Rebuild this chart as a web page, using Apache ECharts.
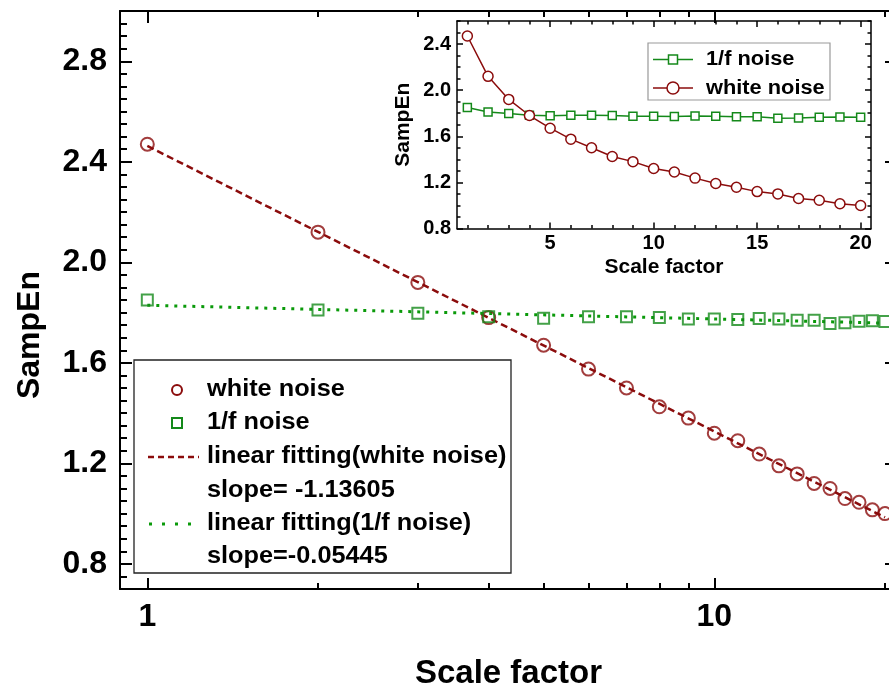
<!DOCTYPE html>
<html><head><meta charset="utf-8">
<script src="https://cdn.jsdelivr.net/npm/echarts@6/dist/echarts.min.js"></script>
<style>html,body{margin:0;padding:0;background:#fff}#c{width:889px;height:690px}</style>
</head><body><div id="c"></div>
<script>
// ---- data ----
const scaleFactors = [1,2,3,4,5,6,7,8,9,10,11,12,13,14,15,16,17,18,19,20];
const whiteNoise = [2.47,2.12,1.92,1.78,1.67,1.575,1.50,1.425,1.38,1.32,1.29,1.237,1.19,1.158,1.12,1.10,1.06,1.045,1.015,1.00];
const pinkNoise  = [1.85,1.81,1.797,1.783,1.777,1.783,1.783,1.78,1.774,1.774,1.772,1.776,1.774,1.769,1.769,1.756,1.759,1.765,1.767,1.764];
const fitX = [1, 20];
const whiteFit = [2.463, 0.985];
const pinkFit = [1.829, 1.758];
const mainXMajor = [1, 10];
const mainXMinor = [2,3,4,5,6,7,8,9,20];
const mainYMajor = [0.8,1.2,1.6,2.0,2.4,2.8];
const insetXMajor = [5,10,15,20];
const insetXMinor = [1,2,3,4,6,7,8,9,11,12,13,14,16,17,18,19];
const insetYMajor = [0.8,1.2,1.6,2.0,2.4];
const slopeWhite = 'slope= -1.13605';
const slopePink = 'slope=-0.05445';

// ---- chart ----
const FONT = '"Liberation Sans", Arial, sans-serif';
const RED = '#8b0c0c', GREEN = '#14891a', GREEN_DOT = '#0a9a0a';
const chart = echarts.init(document.getElementById('c'));

function mkAxis(o) {
  return {
    gridIndex: o.grid, type: o.type || 'value', min: o.min, max: o.max,
    logBase: 10, position: o.pos, interval: o.interval,
    axisLine: {show: !!o.line, onZero: false, lineStyle: {color: '#000', width: o.lw || 2}},
    axisTick: o.tickValues ? {show: true, inside: true, length: o.len, customValues: o.tickValues,
                lineStyle: {color: '#000', width: o.tw || 2}}
              : {show: o.ticks !== false, inside: true, length: o.len, lineStyle: {color: '#000', width: o.tw || 2}},
    axisLabel: o.labels ? {show: true, customValues: o.labels, margin: o.margin,
                color: '#000', fontFamily: FONT, fontWeight: 'bold', fontSize: o.fs,
                formatter: o.fmt} : {show: false},
    splitLine: {show: false}, minorTick: {show: false}, minorSplitLine: {show: false},
    name: o.name, nameLocation: 'middle', nameGap: o.nameGap,
    nameTextStyle: o.name ? Object.assign({color: '#000', fontFamily: FONT, fontWeight: 'bold', fontSize: o.nfs}, o.nts || {}) : undefined,
    z: 5
  };
}
const fmt1 = v => Number(v).toFixed(1);
const fmtInt = v => String(Math.round(v));

const xAxes = [
  // main grid (0)
  mkAxis({grid:0, type:'log', min:0.895, max:21, pos:'bottom', line:true, tickValues:mainXMajor, len:11,
          labels:mainXMajor, margin:12, fs:32, fmt:fmtInt, name:'Scale factor', nameGap:68, nfs:33}),
  mkAxis({grid:0, type:'log', min:0.895, max:21, pos:'bottom', tickValues:mainXMinor, len:6}),
  mkAxis({grid:0, type:'log', min:0.895, max:21, pos:'top', line:true, tickValues:mainXMajor, len:12}),
  mkAxis({grid:0, type:'log', min:0.895, max:21, pos:'top', tickValues:mainXMinor, len:6}),
  // inset grid (1)
  mkAxis({grid:1, min:0.5, max:20.5, pos:'bottom', line:true, lw:1.5, tw:1.5, tickValues:insetXMajor, len:6,
          labels:insetXMajor, margin:5, fs:20, fmt:fmtInt, name:'Scale factor', nameGap:28, nfs:21}),
  mkAxis({grid:1, min:0.5, max:20.5, pos:'bottom', tw:1.5, tickValues:insetXMinor, len:3.5}),
  mkAxis({grid:1, min:0.5, max:20.5, pos:'top', line:true, lw:1.5, tw:1.5, tickValues:insetXMajor, len:6}),
  mkAxis({grid:1, min:0.5, max:20.5, pos:'top', tw:1.5, tickValues:insetXMinor, len:3.5})
];
const yAxes = [
  mkAxis({grid:0, min:0.7, max:3.0, pos:'left', line:true, tickValues:mainYMajor, len:12,
          labels:mainYMajor, margin:13, fs:32, fmt:fmt1, name:'SampEn', nameGap:74, nfs:32,
          nts:{padding:[0,70,0,0]}}),
  mkAxis({grid:0, min:0.7, max:3.0, pos:'left', interval:0.05, len:7}),
  mkAxis({grid:0, min:0.7, max:3.0, pos:'right', line:true, tickValues:mainYMajor, len:12}),
  mkAxis({grid:0, min:0.7, max:3.0, pos:'right', interval:0.05, len:7}),
  mkAxis({grid:1, min:0.8, max:2.6, pos:'left', line:true, lw:1.5, tw:1.5, tickValues:insetYMajor, len:6,
          labels:insetYMajor, margin:6, fs:20, fmt:fmt1, name:'SampEn', nameGap:43, nfs:21}),
  mkAxis({grid:1, min:0.8, max:2.6, pos:'left', interval:0.1, tw:1.5, len:3.5}),
  mkAxis({grid:1, min:0.8, max:2.6, pos:'right', line:true, lw:1.5, tw:1.5, tickValues:insetYMajor, len:6}),
  mkAxis({grid:1, min:0.8, max:2.6, pos:'right', interval:0.1, tw:1.5, len:3.5})
];

const pairs = (xs, ys) => xs.map((x, i) => [x, ys[i]]);

const legendRows = [390, 423, 457, 491, 524, 557];
const T = (x, y, text, fs, sx) => ({type:'text', x, y, scaleX: sx, originX: 0, originY: 0,
  style:{text, fill:'#000', font:`bold ${fs}px ${FONT}`, textVerticalAlign:'middle', textAlign:'left'}, z:50});

const graphic = [
  // main legend
  {type:'rect', shape:{x:134, y:360, width:377, height:213}, style:{fill:'#fff', stroke:'#222', lineWidth:1.3}, z:40},
  {type:'circle', shape:{cx:177, cy:legendRows[0], r:5}, style:{fill:'none', stroke:RED, lineWidth:2}, z:50},
  {type:'rect', shape:{x:172, y:legendRows[1]-5, width:10, height:10}, style:{fill:'none', stroke:GREEN, lineWidth:2}, z:50},
  {type:'line', shape:{x1:148, y1:legendRows[2], x2:199, y2:legendRows[2]}, style:{stroke:RED, lineWidth:2.5, lineDash:[6,4]}, z:50},
  {type:'line', shape:{x1:149, y1:legendRows[4], x2:199, y2:legendRows[4]}, style:{stroke:GREEN_DOT, lineWidth:3, lineDash:[3,10]}, z:50},
  T(207, legendRows[0], 'white noise', 23, 1.1),
  T(207, legendRows[1], '1/f noise', 23, 1.1),
  T(207, legendRows[2], 'linear fitting(white noise)', 23, 1.1),
  T(207, legendRows[3], slopeWhite, 23, 1.1),
  T(207, legendRows[4], 'linear fitting(1/f noise)', 23, 1.1),
  T(207, legendRows[5], slopePink, 23, 1.1),
  // inset legend
  {type:'rect', shape:{x:648, y:43, width:182, height:57}, style:{fill:'#fff', stroke:'#999', lineWidth:1.2}, z:40},
  {type:'line', shape:{x1:653, y1:59.5, x2:693, y2:59.5}, style:{stroke:GREEN, lineWidth:1.5}, z:50},
  {type:'rect', shape:{x:668.5, y:55, width:9, height:9}, style:{fill:'#fff', stroke:GREEN, lineWidth:1.5}, z:51},
  {type:'line', shape:{x1:653, y1:88, x2:693, y2:88}, style:{stroke:RED, lineWidth:1.5}, z:50},
  {type:'circle', shape:{cx:673, cy:88, r:6}, style:{fill:'#fff', stroke:RED, lineWidth:1.5}, z:51},
  T(706, 59.5, '1/f noise', 20, 1.09),
  T(706, 88, 'white noise', 20, 1.09)
];

chart.setOption({
  animation: false,
  backgroundColor: '#fff',
  grid: [
    {left:120, top:11, right:-8, bottom:101, outerBoundsMode:'none', containLabel:false},
    {left:457, top:21, right:18, bottom:461.5, outerBoundsMode:'none', containLabel:false,
     show:true, backgroundColor:'#fff', borderWidth:0, z:3}
  ],
  xAxis: xAxes,
  yAxis: yAxes,
  graphic: graphic,
  series: [
    {type:'line', name:'linear fitting(white noise)', xAxisIndex:0, yAxisIndex:0, data:pairs(fitX, whiteFit),
     symbol:'none', lineStyle:{color:RED, width:2.5, type:[7,4]}, z:3},
    {type:'line', name:'linear fitting(1/f noise)', xAxisIndex:0, yAxisIndex:0, data:pairs(fitX, pinkFit),
     symbol:'none', lineStyle:{color:GREEN_DOT, width:3, type:[3,6]}, z:3},
    {type:'scatter', name:'white noise', xAxisIndex:0, yAxisIndex:0, data:pairs(scaleFactors, whiteNoise),
     symbol:'circle', symbolSize:13, itemStyle:{color:'rgba(0,0,0,0)', borderColor:RED, borderWidth:2}, z:4},
    {type:'scatter', name:'1/f noise', xAxisIndex:0, yAxisIndex:0, data:pairs(scaleFactors, pinkNoise),
     symbol:'rect', symbolSize:11, itemStyle:{color:'rgba(0,0,0,0)', borderColor:GREEN, borderWidth:2}, z:4},
    {type:'line', name:'1/f noise', xAxisIndex:4, yAxisIndex:4, data:pairs(scaleFactors, pinkNoise),
     symbol:'rect', symbolSize:8, showAllSymbol:true, lineStyle:{color:GREEN, width:1.5},
     itemStyle:{color:'#fff', borderColor:GREEN, borderWidth:1.5}, z:10},
    {type:'line', name:'white noise', xAxisIndex:4, yAxisIndex:4, data:pairs(scaleFactors, whiteNoise),
     symbol:'circle', symbolSize:10, showAllSymbol:true, lineStyle:{color:RED, width:1.5},
     itemStyle:{color:'#fff', borderColor:RED, borderWidth:1.5}, z:10}
  ]
});
</script></body></html>
